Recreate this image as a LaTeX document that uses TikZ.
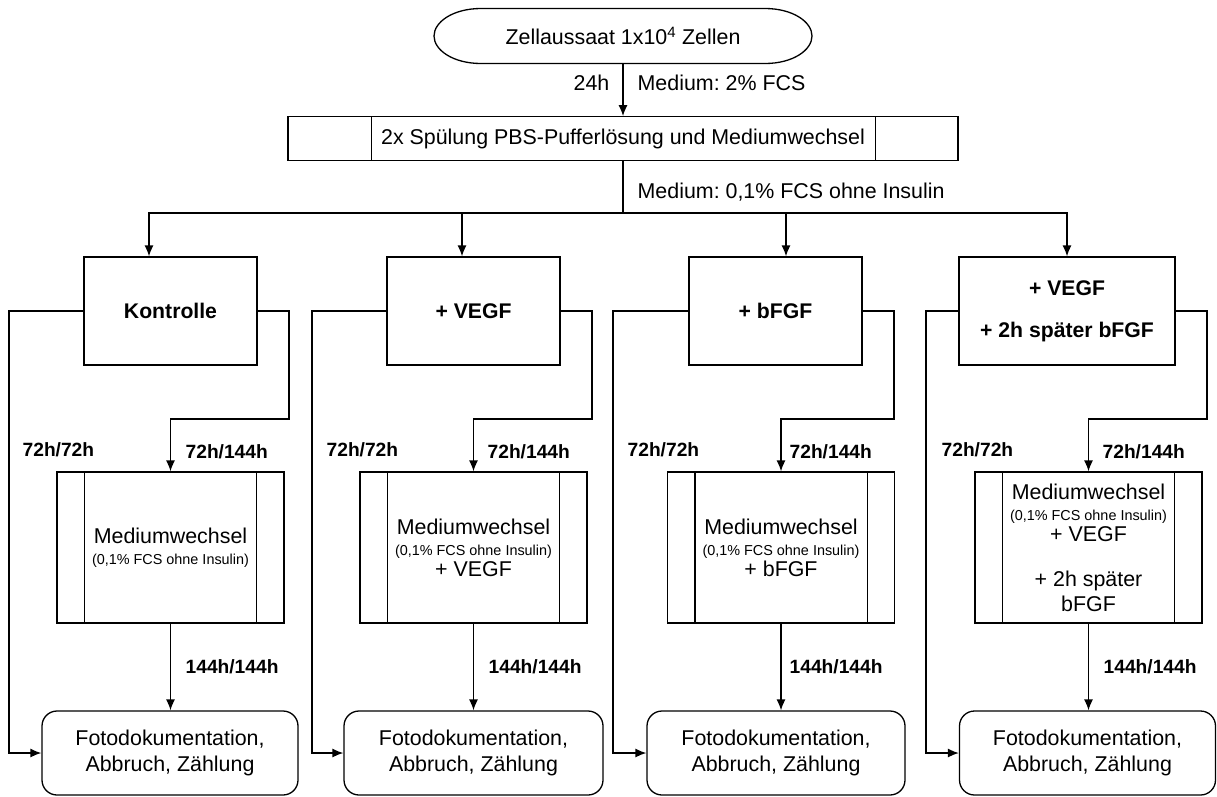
\documentclass[tikz,border=0pt]{standalone}
\usepackage{fontspec}
\setmainfont{Liberation Sans}
\usetikzlibrary{arrows.meta,calc}
\newcommand{\klein}{\fontsize{14.4}{21}\selectfont}
\frenchspacing

\begin{document}
\begin{tikzpicture}[x=1pt,y=-1pt,line width=1.3pt,
  >={Latex[length=11pt,width=9pt]},
  every node/.style={inner sep=0pt},
  note/.style={font=\fontsize{21.4}{24}\selectfont},
  cond/.style={draw,rectangle,minimum height=108,align=center,
    font=\fontsize{21.2}{28}\selectfont\bfseries},
  medbox/.style={draw,rectangle,minimum height=151,minimum width=227,align=center,
    font=\fontsize{21.4}{21}\selectfont},
  endbox/.style={draw,rectangle,rounded corners=15,minimum height=84,align=center,
    font=\fontsize{21.4}{26}\selectfont},
  zeit/.style={anchor=west,font=\fontsize{19.2}{20}\selectfont\bfseries}]
\useasboundingbox (0,0) rectangle (1217,796);
% Aussaat und Spuelung
\node[note,minimum width=378,minimum height=55] (zell) at (623,36) {Zellaussaat 1x10\textsuperscript{4} Zellen};
\draw (481,8.5) -- (765,8.5) .. controls (793,8.5) and (812,22) .. (812,36)
  .. controls (812,50) and (793,63.5) .. (765,63.5) -- (481,63.5)
  .. controls (453,63.5) and (434,50) .. (434,36)
  .. controls (434,22) and (453,8.5) .. (481,8.5) -- cycle;
\node[note,draw,minimum width=670,minimum height=43.5] (spuel) at (623,138.5) {2x Spülung PBS-Pufferlösung und Mediumwechsel};
\draw ($(spuel.north west)+(84,0)$) -- ($(spuel.south west)+(84,0)$);
\draw ($(spuel.north east)+(-83,0)$) -- ($(spuel.south east)+(-83,0)$);
\draw[->] (zell.south) -- (spuel.north);
\node[note,anchor=east] (t24) at (610,83) {24h};
\node[note,anchor=west] (med2) at (637,83) {Medium: 2\% FCS};
\coordinate (bus) at (623,213);
\draw[line width=2.2pt] (spuel.south) -- (bus);
\node[note,anchor=west] (med01) at (637,192) {Medium: 0,1\% FCS ohne Insulin};
% Ansaetze
\node[cond,minimum width=173] (k1) at (170.5,311) {Kontrolle};
\node[cond,minimum width=173] (k2) at (473.5,311) {+ VEGF};
\node[cond,minimum width=173] (k3) at (775.5,311) {+ bFGF};
\node[cond,minimum width=216] (k4) at (1067,311) {+ VEGF\\[14pt]+ 2h später bFGF};
\coordinate (d1) at (149,213);
\coordinate (d2) at (462,213);
\coordinate (d3) at (786,213);
\coordinate (d4) at (1067,213);
\draw[->] (bus) -- (d1) -- (d1 |- k1.north);
\draw[->] (bus) -- (d2) -- (d2 |- k2.north);
\draw[->] (bus) -- (d3) -- (d3 |- k3.north);
\draw[->] (bus) -- (d4) -- (d4 |- k4.north);
% Mediumwechsel
\node[medbox] (m1) at (170.5,547.5) {Mediumwechsel\\{\klein (0,1\% FCS ohne Insulin)}};
\node[medbox] (m2) at (473.5,547.5) {Mediumwechsel\\{\klein (0,1\% FCS ohne Insulin)}\\+ VEGF};
\node[medbox] (m3) at (781,547.5) {Mediumwechsel\\{\klein (0,1\% FCS ohne Insulin)}\\+ bFGF};
\node[medbox] (m4) at (1088.5,547.5) {Mediumwechsel\\{\klein (0,1\% FCS ohne Insulin)}\\+ VEGF\\[24pt]+ 2h später\\[4pt]bFGF};
\draw ($(m1.north west)+(28,0)$) -- ($(m1.south west)+(28,0)$);
\draw ($(m1.north east)+(-28,0)$) -- ($(m1.south east)+(-28,0)$);
\draw ($(m2.north west)+(28,0)$) -- ($(m2.south west)+(28,0)$);
\draw ($(m2.north east)+(-28,0)$) -- ($(m2.south east)+(-28,0)$);
\draw ($(m3.north west)+(28,0)$) -- ($(m3.south west)+(28,0)$);
\draw ($(m3.north east)+(-28,0)$) -- ($(m3.south east)+(-28,0)$);
\draw ($(m4.north west)+(28,0)$) -- ($(m4.south west)+(28,0)$);
\draw ($(m4.north east)+(-28,0)$) -- ($(m4.south east)+(-28,0)$);
% Abschluss
\node[endbox,minimum width=256] (f1) at (170,753) {Fotodokumentation,\\Abbruch, Zählung};
\node[endbox,minimum width=259] (f2) at (473.5,753) {Fotodokumentation,\\Abbruch, Zählung};
\node[endbox,minimum width=258] (f3) at (776,753) {Fotodokumentation,\\Abbruch, Zählung};
\node[endbox,minimum width=256] (f4) at (1087.5,753) {Fotodokumentation,\\Abbruch, Zählung};
% Wege 72h/72h
\coordinate (l1) at (9,311);
\coordinate (l2) at (312,311);
\coordinate (l3) at (613,311);
\coordinate (l4) at (926,311);
\draw[->] (k1.west) -- (l1) |- (f1.west);
\draw[->] (k2.west) -- (l2) |- (f2.west);
\draw[->] (k3.west) -- (l3) |- (f3.west);
\draw[->] (k4.west) -- (l4) |- (f4.west);
% Wege 72h/144h
\coordinate (r1) at (289,419);
\coordinate (r2) at (592,419);
\coordinate (r3) at (894,419);
\coordinate (r4) at (1207,419);
\draw[->] (k1.east) -| (r1) -| (m1.north);
\draw[->] (k2.east) -| (r2) -| (m2.north);
\draw[->] (k3.east) -| (r3) -| (m3.north);
\draw[->] (k4.east) -| (r4) -| (m4.north);
\draw[->] (m1.south) -- (f1.north -| m1.south);
\draw[->] (m2.south) -- (f2.north -| m2.south);
\draw[->] (m3.south) -- (f3.north -| m3.south);
\draw[->] (m4.south) -- (f4.north -| m4.south);
% Zeiten
\node[zeit] (a1) at (22,450) {72h/72h};
\node[zeit] (a2) at (326,450) {72h/72h};
\node[zeit] (a3) at (627,450) {72h/72h};
\node[zeit] (a4) at (941,450) {72h/72h};
\node[zeit] (b1) at (185,452) {72h/144h};
\node[zeit] (b2) at (487,452) {72h/144h};
\node[zeit] (b3) at (789,452) {72h/144h};
\node[zeit] (b4) at (1102,452) {72h/144h};
\node[zeit] (c1) at (185,667) {144h/144h};
\node[zeit] (c2) at (488,667) {144h/144h};
\node[zeit] (c3) at (789,667) {144h/144h};
\node[zeit] (c4) at (1103,667) {144h/144h};
\end{tikzpicture}
\end{document}
